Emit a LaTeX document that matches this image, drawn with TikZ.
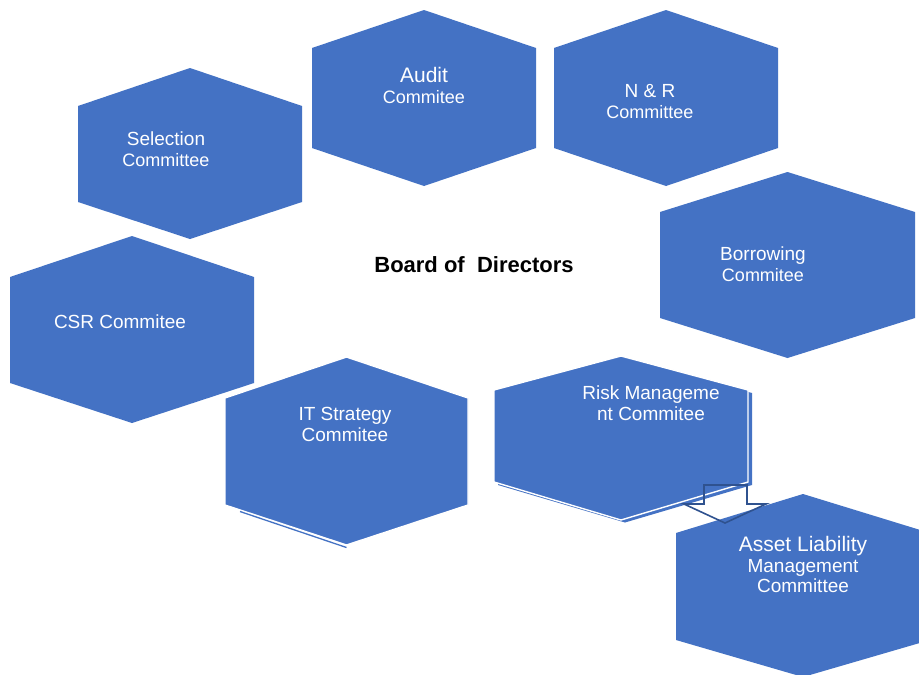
\documentclass[tikz,border=0pt]{standalone}
\usepackage{fontspec}
\setmainfont{Liberation Sans}
\definecolor{hexblue}{HTML}{4472C4}
\definecolor{arrowblue}{HTML}{2F528F}
\tikzset{
  hexfill/.style={fill=hexblue},
  hexedge/.style={fill=hexblue, draw=white, line width=1.4pt, line join=miter},
  shadowline/.style={draw=hexblue, line width=1.3pt},
  hexlabel/.style={text=white, align=center, inner sep=0pt, font=\fontsize{19}{21}\selectfont},
  downarrow/.style={draw=arrowblue, line width=1.6pt, line join=miter}
}
% cx, half width, top, upper shoulder, lower shoulder, bottom
\newcommand\hexpath[6]{({#1-#2},#4) -- (#1,#3) -- ({#1+#2},#4) -- ({#1+#2},#5) -- (#1,#6) -- ({#1-#2},#5) -- cycle}
\begin{document}
\begin{tikzpicture}[x=1pt,y=-1pt]
\useasboundingbox (0,0) rectangle (919,675);
\clip (0,0) rectangle (919,675);
\fill[white] (0,0) rectangle (919,675);
% hexagons
\fill[hexfill] \hexpath{190}{112}{68}{106}{202}{239};
\fill[hexfill] \hexpath{424}{112}{10}{48}{148}{186};
\fill[hexfill] \hexpath{666}{112}{10}{48}{148}{186};
\fill[hexfill] \hexpath{787.5}{127.5}{172}{212}{318}{358};
\fill[hexfill] \hexpath{132}{122}{236}{277}{383}{423};
% IT strategy with shadow line on lower-left edge
\path[hexedge] \hexpath{346.5}{121.5}{357}{398}{505}{545};
\draw[shadowline] (240,511.5) -- (346.5,547.5);
% Risk management with shadow
\fill[hexfill] \hexpath{625}{127}{359}{393}{485}{522.5};
\path[hexedge] \hexpath{621}{127}{356}{390}{482}{520};
% ALM
\fill[hexfill] \hexpath{803}{127}{494}{533}{640}{677};
% arrow from Risk to ALM
\coordinate (a1) at (704,485);
\coordinate (a2) at (747,485);
\coordinate (a3) at (747,504);
\coordinate (a4) at (766,504);
\coordinate (tip) at (725,523);
\coordinate (a6) at (684,504);
\coordinate (a7) at (704,504);
\draw[downarrow] (a1) -- (a2) -- (a3) -- (a4) -- (tip) -- (a6) -- (a7) -- cycle;
% labels
\node[hexlabel] (sel) at (166,149.5) {Selection\\{\fontsize{18}{21}\selectfont Committee}};
\node[hexlabel] (aud) at (424,85) {{\fontsize{21}{21}\selectfont Audit}\\{\fontsize{18}{21}\selectfont Commitee}};
\node[hexlabel] (nr) at (650,101.5) {N \& R\\{\fontsize{18}{21}\selectfont Committee}};
\node[hexlabel] (bor) at (763,264) {Borrowing\\{\fontsize{18}{21}\selectfont Commitee}};
\node[hexlabel] (csr) at (120,322) {CSR Commitee};
\node[hexlabel] (its) at (345,424.5) {IT Strategy\\Commitee};
\node[hexlabel] (rsk) at (651,403.5) {Risk Manageme\\nt Commitee};
\node[hexlabel, font=\fontsize{19}{20.5}\selectfont] (alm) at (803,564.5) {{\fontsize{21}{20.5}\selectfont Asset Liability}\\Management\\Committee};
\node[inner sep=0pt, font=\bfseries\fontsize{22}{24}\selectfont] (bod) at (474,265) {Board of\ \ Directors};
\end{tikzpicture}
\end{document}
